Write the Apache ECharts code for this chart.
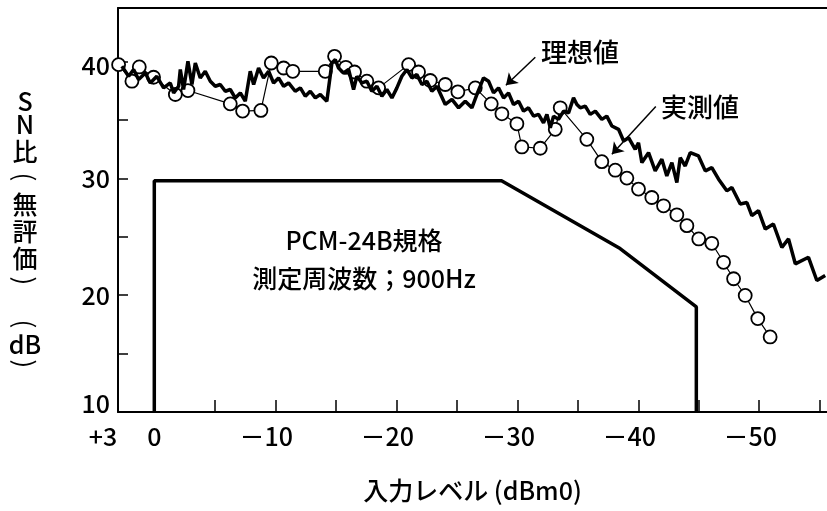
<!DOCTYPE html>
<html><head><meta charset="utf-8">
<script src="https://cdn.jsdelivr.net/npm/echarts@6/dist/echarts.min.js"></script>
<style>html,body{margin:0;padding:0;background:#fff}#c{width:827px;height:511px}</style>
</head><body><div id="c"></div>
<script>
const FONT = '"Noto Sans CJK JP","Noto Sans",sans-serif';
const W = 500;

// axis ticks / labels
const xTickValues = [0, -5, -10, -15, -20, -25, -30, -35, -40, -45, -50, -55];
const xLabelValues = [3, 0, -10, -20, -30, -40, -50];
const yTickValues = [15, 20, 25, 30, 35, 40];
const yLabelValues = [10, 20, 30, 40];

// 理想値 (ideal) line
const idealLevel = [2.68,2.12,1.71,1.30,0.74,0.33,-0.21,-0.77,-1.32,-1.60,-2.01,-2.15,-2.42,-2.78,-3.11,-3.39,-3.80,-4.21,-4.63,-5.04,-5.45,-5.87,-6.28,-6.69,-7.11,-7.52,-7.93,-8.21,-8.62,-9.03,-9.45,-9.86,-10.27,-10.69,-11.10,-11.65,-12.07,-12.48,-12.89,-13.31,-13.72,-14.26,-14.68,-14.96,-15.23,-15.64,-16.06,-16.47,-16.74,-17.16,-17.57,-17.98,-18.40,-18.81,-19.22,-19.64,-20.05,-20.46,-20.88,-21.29,-21.70,-22.12,-22.53,-22.94,-23.36,-24.05,-24.60,-25.15,-25.70,-26.25,-26.66,-26.94,-27.21,-27.63,-28.04,-28.45,-28.87,-29.28,-29.69,-30.11,-30.52,-30.93,-31.35,-31.76,-32.17,-32.45,-32.73,-33.00,-33.41,-33.83,-34.24,-34.65,-34.93,-35.21,-35.62,-36.03,-36.45,-36.99,-37.40,-37.82,-38.37,-38.79,-39.20,-39.75,-40.02,-40.30,-40.85,-41.40,-41.95,-42.36,-42.78,-43.19,-43.47,-43.88,-44.30,-44.98,-45.54,-46.08,-46.64,-47.32,-47.74,-48.43,-48.98,-49.39,-49.94,-50.50,-51.17,-51.87,-52.42,-52.98,-54.07,-54.76,-55.45];
const idealSN = [39.61,38.75,39.33,38.47,39.04,38.18,38.75,37.76,38.18,37.33,37.90,39.33,37.62,40.03,38.05,39.89,38.61,39.18,38.33,37.90,38.05,37.47,37.62,36.90,37.33,36.62,39.18,38.05,39.46,38.61,39.18,38.18,38.61,37.90,38.18,37.47,37.76,37.05,37.47,36.90,37.19,36.62,39.89,40.18,39.46,39.04,39.33,37.62,38.75,38.18,38.33,37.47,37.90,37.05,37.62,36.90,37.76,38.75,39.33,38.61,38.90,38.05,38.33,37.47,37.90,36.34,36.77,36.05,36.62,36.05,37.19,37.90,38.61,38.33,37.33,37.76,36.90,37.33,36.34,36.62,35.77,36.05,35.34,35.49,34.77,35.49,34.34,35.34,35.06,35.77,35.62,36.90,36.34,36.05,36.19,35.49,35.77,35.06,35.34,34.49,34.21,33.21,33.49,32.50,33.06,31.36,32.21,30.65,31.65,30.22,31.36,29.65,31.78,31.07,32.21,31.93,30.65,30.93,29.94,28.94,29.22,27.81,27.94,26.81,27.24,25.67,26.10,24.10,24.82,22.69,23.25,21.26,21.69];

// 実測値 (measured) circles
const measLevel = [2.95,1.85,1.24,0.06,-1.74,-2.78,-6.28,-7.30,-8.81,-9.67,-10.69,-11.45,-14.13,-14.90,-15.83,-16.55,-17.57,-18.54,-21.02,-21.84,-22.81,-24.05,-25.09,-26.53,-27.85,-28.73,-29.97,-30.38,-31.90,-33.14,-33.55,-35.75,-36.99,-38.10,-39.06,-40.02,-41.12,-42.09,-43.19,-44.02,-45.00,-46.08,-47.05,-47.88,-48.84,-49.88,-50.90];
const measSN = [39.75,38.33,39.55,38.67,37.19,37.53,36.39,35.77,35.83,39.89,39.46,39.18,39.18,40.46,39.52,39.12,38.33,37.76,39.75,39.12,38.39,38.05,37.42,37.76,36.39,35.54,34.68,32.70,32.59,34.21,36.05,33.35,31.44,30.71,30.03,29.09,28.37,27.66,26.89,25.96,24.82,24.45,22.82,21.41,19.98,18.00,16.43];

// PCM-24B 規格 outline
const specLevel = [0, 0, -28.7, -38.5, -44.8, -44.8];
const specSN = [10, 29.8, 29.8, 24.0, 19.0, 10];

const zip = (a, b) => a.map((v, i) => [v, b[i]]);

const chart = echarts.init(document.getElementById('c'), null, {renderer: 'canvas'});

// vertical y-axis title; parentheses are turned to their vertical form
const yNameChars = [
  {t: 'S', y: 101}, {t: 'N', y: 124}, {t: '比', y: 151},
  {t: '(', y: 177, r: true}, {t: '無', y: 204}, {t: '評', y: 231}, {t: '価', y: 258},
  {t: ')', y: 281, r: true}, {t: '(', y: 324, r: true}, {t: 'dB', y: 344}, {t: ')', y: 364, r: true}
];

const graphics = yNameChars.map(c => ({
  type: 'group', x: 25, y: c.y, rotation: c.r ? -Math.PI / 2 : 0,
  children: [{
    type: 'text', x: 0, y: 0,
    style: {text: c.t, fill: '#000', font: (c.r ? '400 26px ' : W + ' 25px ') + FONT, align: 'center', verticalAlign: 'middle'}
  }]
}));
graphics.push(
  {type: 'text', x: 580, y: 52, style: {text: '理想値', fill: '#000', font: W + ' 26px ' + FONT, align: 'center', verticalAlign: 'middle'}},
  {type: 'text', x: 700, y: 107, style: {text: '実測値', fill: '#000', font: W + ' 26px ' + FONT, align: 'center', verticalAlign: 'middle'}},
  {type: 'text', x: 364, y: 240, style: {text: 'PCM-24B規格', fill: '#000', font: W + ' 25px ' + FONT, align: 'center', verticalAlign: 'middle'}},
  {type: 'text', x: 364, y: 278, style: {text: '測定周波数；900Hz', fill: '#000', font: W + ' 25px ' + FONT, align: 'center', verticalAlign: 'middle'}}
);

chart.setOption({
  animation: false,
  backgroundColor: '#fff',
  grid: {left: 118, right: 0, top: 8, bottom: 99, containLabel: false},
  xAxis: [{
    type: 'value', min: -55.6, max: 3, inverse: true, position: 'bottom',
    axisLine: {onZero: false, lineStyle: {color: '#000', width: 2}},
    axisTick: {inside: true, length: 12, customValues: xTickValues, lineStyle: {color: '#000', width: 1.5}},
    splitLine: {show: false},
    axisLabel: {
      customValues: xLabelValues, margin: 12, color: '#000', fontFamily: FONT, fontSize: 25, fontWeight: W,
      formatter: v => v === 3 ? '{p|+3}' : v === 0 ? '0' : '{n|－' + Math.abs(v) + '}',
      rich: {p: {padding: [0, 30, 0, 0], fontSize: 25, fontFamily: FONT, fontWeight: W, color: '#000'},
             n: {padding: [0, 18, 0, 0], fontSize: 25, fontFamily: FONT, fontWeight: W, color: '#000'}}
    },
    name: '入力レベル (dBm0)', nameLocation: 'middle', nameGap: 66,
    nameTextStyle: {color: '#000', fontFamily: FONT, fontSize: 25, fontWeight: W}
  }, {
    type: 'value', min: -55.6, max: 3, inverse: true, position: 'top',
    axisLine: {show: true, onZero: false, lineStyle: {color: '#000', width: 2}},
    axisTick: {show: false}, axisLabel: {show: false}, splitLine: {show: false}
  }],
  yAxis: {
    type: 'value', min: 10, max: 44.6,
    axisLine: {show: true, onZero: false, lineStyle: {color: '#000', width: 2}},
    axisTick: {inside: true, length: 10, customValues: yTickValues, lineStyle: {color: '#000', width: 1.5}},
    splitLine: {show: false},
    axisLabel: {
      customValues: yLabelValues, margin: 8, color: '#000', fontFamily: FONT, fontSize: 25, fontWeight: W,
      formatter: v => v === 10 ? '{b|10}' : v === 40 ? '{t|40}' : String(v),
      rich: {b: {padding: [0, 0, 18, 0], fontSize: 25, fontFamily: FONT, fontWeight: W, color: '#000'},
             t: {padding: [8, 0, 0, 0], fontSize: 25, fontFamily: FONT, fontWeight: W, color: '#000'}}
    }
  },
  series: [{
    name: 'PCM-24B規格', type: 'line', data: zip(specLevel, specSN), symbol: 'none',
    lineStyle: {color: '#000', width: 3.5}, z: 2, silent: true
  }, {
    name: '実測値', type: 'line', data: zip(measLevel, measSN), symbol: 'circle', symbolSize: 13,
    itemStyle: {color: '#fff', borderColor: '#000', borderWidth: 1.8},
    lineStyle: {color: '#000', width: 1.2}, z: 3, silent: true
  }, {
    name: '理想値', type: 'line', data: zip(idealLevel, idealSN), symbol: 'none',
    lineStyle: {color: '#000', width: 3.5}, z: 4, silent: true,
    markLine: {
      silent: true, symbol: ['none', 'arrow'], symbolSize: 11,
      lineStyle: {color: '#000', width: 1.5, type: 'solid'}, label: {show: false},
      data: [
        [{coord: [-31.49, 40.38]}, {coord: [-29.06, 37.99]}],
        [{coord: [-41.45, 36.17]}, {coord: [-37.82, 32.07]}]
      ]
    }
  }],
  graphic: graphics
});
</script></body></html>
